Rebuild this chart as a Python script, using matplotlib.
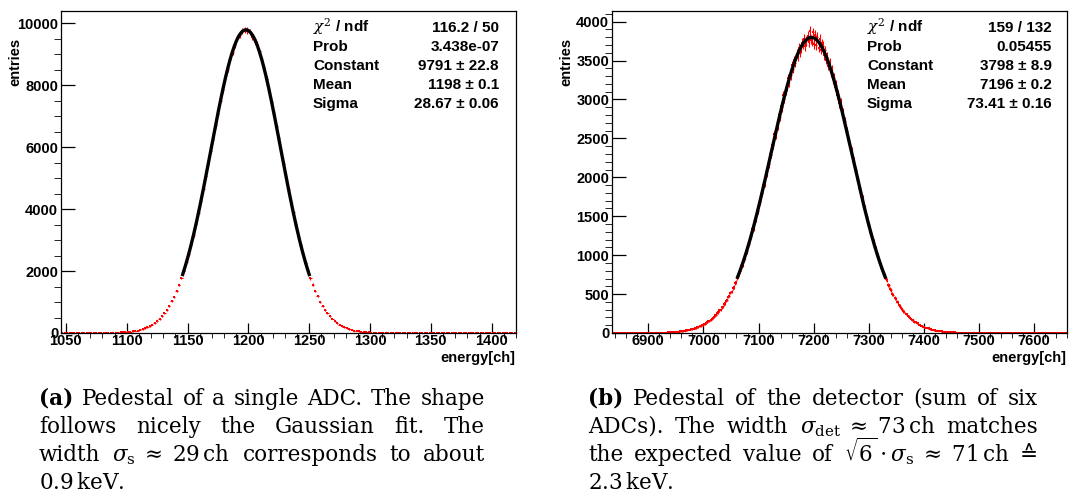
import numpy as np
import matplotlib.pyplot as plt
from matplotlib.ticker import MultipleLocator

plt.rcParams['font.family'] = ['Liberation Sans', 'DejaVu Sans']
plt.rcParams['mathtext.fontset'] = 'dejavuserif'

# (a) single ADC pedestal, 2 ch bins, first bin centre 1079
adc_first_center = 1079
adc_counts = [3, 2, 4, 5, 6, 9, 11, 13, 17, 21,
              26, 33, 41, 52, 63, 80, 97, 122, 146, 183,
              218, 268, 318, 386, 452, 545, 634, 752, 871, 1022,
              1172, 1362, 1549, 1779, 2005, 2281, 2548, 2864, 3170, 3530,
              3870, 4268, 4636, 5060, 5445, 5885, 6270, 6705, 7080, 7500,
              7845, 8230, 8520, 8850, 9070, 9290, 9530, 9620, 9760, 9800,
              9770, 9710, 9560, 9480, 9340, 9110, 8820, 8560, 8200, 7880,
              7470, 7110, 6680, 6300, 5855, 5470, 5035, 4660, 4245, 3895,
              3510, 3190, 2845, 2565, 2262, 2020, 1765, 1562, 1350, 1185,
              1012, 882, 744, 642, 536, 460, 379, 324, 262, 223,
              178, 150, 119, 100, 77, 65, 50, 41, 31, 26,
              19, 16, 11, 10, 7, 6, 4, 3, 3, 2]
adc_fit = (9791, 1198, 28.67)
adc_fit_range = (1146, 1250)
adc_stats = ['116.2 / 50', '3.438e-07', '9791 ± 22.8', '1198 ± 0.1', '28.67 ± 0.06']

# (b) detector pedestal (sum of six ADCs), 2 ch bins, first bin centre 6925
det_first_center = 6925
det_counts = [4, 5, 5, 5, 6, 7,
              8, 8, 9, 10, 11, 12, 13, 14, 16, 17,
              20, 20, 23, 24, 28, 29, 33, 34, 39, 40,
              45, 47, 53, 55, 62, 65, 73, 75, 85, 88,
              98, 102, 114, 118, 131, 136, 151, 156, 173, 179,
              197, 204, 225, 233, 256, 264, 290, 300, 328, 339,
              370, 381, 416, 427, 466, 478, 520, 533, 578, 594,
              643, 657, 712, 728, 785, 802, 863, 880, 947, 965,
              1037, 1052, 1128, 1148, 1226, 1246, 1330, 1350, 1439, 1460,
              1552, 1569, 1667, 1684, 1788, 1801, 1906, 1921, 2050, 2045,
              2175, 2168, 2297, 2290, 2420, 2418, 2551, 2540, 2675, 2660,
              2801, 2780, 2911, 2898, 3052, 3010, 3120, 3165, 3270, 3216,
              3334, 3312, 3441, 3398, 3505, 3471, 3589, 3548, 3660, 3602,
              3655, 3731, 3705, 3782, 3690, 3750, 3812, 3735, 3880, 3770,
              3745, 3862, 3712, 3830, 3701, 3805, 3668, 3779, 3641, 3720,
              3690, 3571, 3630, 3512, 3548, 3436, 3470, 3352, 3391, 3262,
              3281, 3160, 3190, 3058, 3071, 2950, 2962, 2831, 2842, 2716,
              2721, 2596, 2601, 2478, 2466, 2352, 2347, 2229, 2218, 2104,
              2091, 1981, 1972, 1860, 1845, 1742, 1730, 1623, 1607, 1512,
              1494, 1401, 1385, 1296, 1279, 1194, 1177, 1098, 1082, 1005,
              990, 919, 905, 838, 824, 760, 749, 690, 677, 622,
              611, 561, 549, 503, 492, 450, 440, 401, 393, 357,
              349, 317, 309, 280, 273, 247, 240, 217, 211, 190,
              185, 166, 162, 145, 141, 126, 123, 109, 106, 94,
              92, 81, 79, 69, 67, 59, 58, 50, 49, 43,
              42, 37, 36, 31, 30, 26, 25, 22, 21, 18,
              18, 15, 15, 12, 12, 10, 10, 9, 8, 7,
              7, 6, 6, 5, 4, 4]
det_fit = (3798, 7196, 73.41)
det_fit_range = (7062, 7330)
det_stats = ['159 / 132', '0.05455', '3798 ± 8.9', '7196 ± 0.2', '73.41 ± 0.16']

stat_names = [r'$\chi^{2}$ / ndf', 'Prob', 'Constant', 'Mean', 'Sigma']

caption_a = [['(a)', 'Pedestal', 'of', 'a', 'single', 'ADC.', 'The', 'shape'],
             ['follows', 'nicely', 'the', 'Gaussian', 'fit.', 'The'],
             ['width', r'$\sigma_{\rm s}\;\approx\;29\,\mathrm{ch}$', 'corresponds', 'to', 'about'],
             [r'0.9$\,$keV.']]
caption_b = [['(b)', 'Pedestal', 'of', 'the', 'detector', '(sum', 'of', 'six'],
             ['ADCs).', 'The', 'width', r'$\sigma_{\rm det}\;\approx\;73\,\mathrm{ch}$', 'matches'],
             ['the', 'expected', 'value', 'of', r'$\sqrt{6}\cdot\sigma_{\rm s}\;\approx\;71\,\mathrm{ch}$', '≙'],
             [r'2.3$\,$keV.']]

W, H = 1089, 497
fig = plt.figure(figsize=(W / 100, H / 100), dpi=100)


def panel(left_px, xlim, ylim, counts, first_center, fit, fit_range, xticks, yticks, stats, name_x, value_x):
    # ROOT look: bold sans tick labels (ticks copy the font of the first one)
    plt.rcParams['font.weight'] = 'bold'
    ax = fig.add_axes([left_px / W, 1 - 333 / H, 455 / W, 322 / H])
    plt.rcParams['font.weight'] = 'normal'
    centers = np.arange(xlim[0], xlim[1], 2) + 1
    y = np.zeros(len(centers))
    i0 = int((first_center - centers[0]) // 2)
    y[i0:i0 + len(counts)] = counts
    ax.errorbar(centers, y, xerr=1, yerr=np.sqrt(y), fmt='s', ms=2, mew=0,
                color='red', ecolor='red', elinewidth=0.8, capsize=0, zorder=2)
    const, mean, sigma = fit
    xf = np.linspace(fit_range[0], fit_range[1], 300)
    ax.plot(xf, const * np.exp(-0.5 * ((xf - mean) / sigma) ** 2), color='black', lw=2.4, zorder=3)
    ax.set_xlim(xlim)
    ax.set_ylim(ylim)
    ax.xaxis.set_major_locator(MultipleLocator(xticks[0]))
    ax.xaxis.set_minor_locator(MultipleLocator(xticks[1]))
    ax.yaxis.set_major_locator(MultipleLocator(yticks[0]))
    ax.yaxis.set_minor_locator(MultipleLocator(yticks[1]))
    ax.tick_params(direction='in', labelsize=10.5, width=0.9)
    ax.tick_params(axis='x', which='major', length=7.2, pad=1)
    ax.tick_params(axis='x', which='minor', length=3.6)
    ax.tick_params(axis='y', which='major', length=10, pad=2)
    ax.tick_params(axis='y', which='minor', length=5)
    for s in ax.spines.values():
        s.set_linewidth(0.9)
    for i, (n, v) in enumerate(zip(stat_names, stats)):
        yb = 1 - (32 + 19 * i) / H
        fig.text(name_x / W, yb, n, fontsize=11, fontweight='bold', va='baseline', ha='left')
        fig.text(value_x / W, yb, v, fontsize=11, fontweight='bold', va='baseline', ha='right')
    fig.text((left_px + 454) / W, 1 - 358 / H, 'energy[ch]', fontsize=10.5, fontweight='bold',
             ha='right', va='center')
    fig.text((left_px - 46) / W, 1 - 38 / H, 'entries', fontsize=10.5, fontweight='bold',
             rotation=90, ha='center', va='top')
    return ax


def caption(lines, x0, x1):
    renderer = fig.canvas.get_renderer()
    for row, words in enumerate(lines):
        yb = 1 - (405 + 28 * row) / H
        texts = []
        for w in words:
            weight = 'bold' if w in ('(a)', '(b)') else 'normal'
            texts.append(fig.text(0, yb, w, fontsize=15.5, fontweight=weight, va='baseline',
                                  family=['DejaVu Serif', 'DejaVu Sans']))
        widths = [t.get_window_extent(renderer).width for t in texts]
        if row == len(lines) - 1:
            gap = 0
        else:
            gap = (x1 - x0 - sum(widths)) / (len(words) - 1)
        x = x0
        for t, w in zip(texts, widths):
            t.set_x(x / W)
            x += w + gap


panel(61, (1046, 1420), (0, 10400), adc_counts, adc_first_center, adc_fit, adc_fit_range,
      (50, 10), (2000, 500), adc_stats, 313, 499)
panel(612, (6834, 7660), (0, 4137), det_counts, det_first_center, det_fit, det_fit_range,
      (100, 20), (500, 100), det_stats, 867, 1052)

caption(caption_a, 39, 485)
caption(caption_b, 588, 1038)

fig.savefig('out.png', dpi=100)
